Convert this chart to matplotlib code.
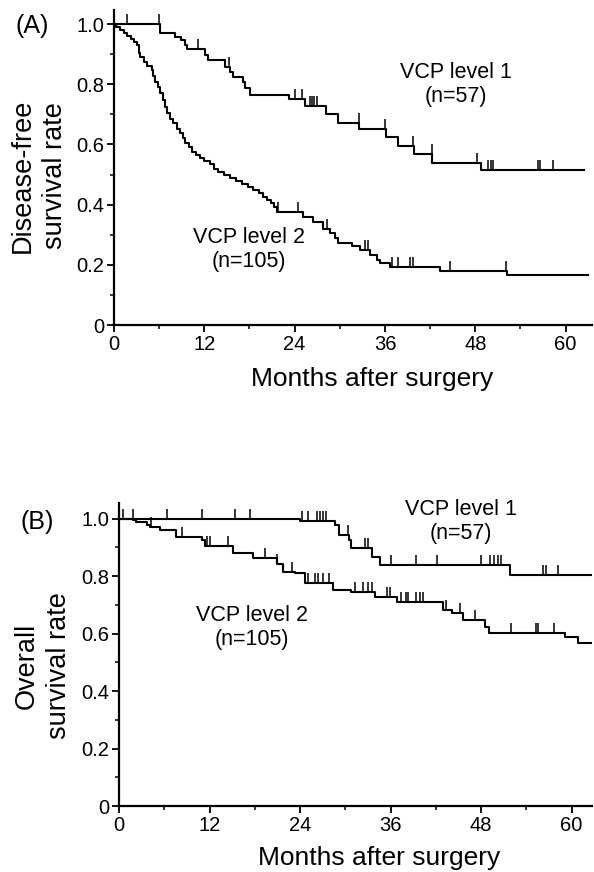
import numpy as np
import matplotlib
matplotlib.use('Agg')
import matplotlib.pyplot as plt
from matplotlib.ticker import MultipleLocator

plt.rcParams['font.family'] = ['Liberation Sans', 'DejaVu Sans']

# (A) disease-free survival, step times (months) and survival after each step
dfs_lvl1_months = [0, 6.1, 8.1, 8.9, 9.4, 9.7, 12.1, 12.5, 14.7, 15.4, 15.8, 17.1, 17.4, 18.1,
                   23.2, 25.4, 28.1, 29.8, 32.6, 36.2, 37.7, 39.8, 42.3, 48.7, 62.5]
dfs_lvl1_surv = [1.0, 0.970, 0.957, 0.947, 0.932, 0.917, 0.897, 0.880, 0.857, 0.840, 0.823, 0.807, 0.787, 0.764,
                 0.752, 0.728, 0.700, 0.673, 0.650, 0.625, 0.595, 0.568, 0.538, 0.515, 0.515]
dfs_lvl1_censored = [1.7, 6.0, 11.2, 15.3, 24.0, 25.0, 26.0, 26.3, 26.6, 27.0, 32.5, 36.0, 39.7,
                     42.2, 48.2, 49.7, 50.1, 50.4, 56.3, 56.6, 58.3]

dfs_lvl2_months = [0, 0.3, 0.8, 1.3, 1.7, 2.2, 2.6, 3.0, 3.3, 3.5, 4.0, 4.4, 5.0, 5.2, 5.4, 5.8, 6.1, 6.5,
                   6.8, 7.0, 7.5, 7.9, 8.4, 8.8, 9.1, 9.4, 9.9, 10.3, 10.9, 11.4, 12.0, 12.7, 13.3, 13.8,
                   14.6, 15.4, 16.2, 17.0, 17.8, 18.5, 19.2, 19.8, 20.3, 20.8, 21.2, 21.6, 25.1, 26.5,
                   27.8, 28.7, 29.3, 29.8, 31.6, 32.7, 34.0, 35.0, 35.4, 36.6, 43.3, 52.2, 63.0]
dfs_lvl2_surv = [1.0, 0.99, 0.98, 0.97, 0.962, 0.952, 0.941, 0.932, 0.905, 0.89, 0.875, 0.862, 0.847, 0.826,
                 0.808, 0.79, 0.77, 0.748, 0.725, 0.703, 0.686, 0.67, 0.653, 0.637, 0.62, 0.604, 0.59, 0.576,
                 0.565, 0.554, 0.544, 0.535, 0.52, 0.508, 0.5, 0.49, 0.478, 0.468, 0.458, 0.449, 0.438, 0.427,
                 0.415, 0.404, 0.393, 0.376, 0.36, 0.343, 0.32, 0.305, 0.29, 0.272, 0.262, 0.25, 0.232, 0.215,
                 0.205, 0.194, 0.18, 0.166, 0.166]
dfs_lvl2_censored = [21.8, 24.5, 28.3, 33.3, 33.8, 36.9, 37.7, 39.3, 39.7, 44.6, 52.1]

# (B) overall survival
os_lvl1_months = [0, 24.0, 28.6, 29.2, 30.5, 30.7, 33.5, 34.6, 51.8, 62.6]
os_lvl1_surv = [1.0, 0.993, 0.978, 0.943, 0.925, 0.896, 0.867, 0.838, 0.803, 0.803]
os_lvl1_censored = [0.5, 1.8, 6.3, 11.0, 15.4, 17.4, 24.2, 25.1, 26.2, 26.6, 27.0, 27.5, 30.4, 32.6,
                    33.0, 36.1, 39.4, 42.1, 48.0, 49.2, 49.7, 50.2, 50.6, 56.2, 56.6, 58.2]

os_lvl2_months = [0, 1.8, 2.3, 3.7, 4.1, 5.5, 7.6, 11.0, 11.4, 15.1, 17.8, 20.9, 21.8, 23.3, 24.6, 28.4,
                  30.8, 33.9, 36.8, 43.0, 44.1, 45.6, 48.5, 49.1, 59.1, 60.8, 62.6]
os_lvl2_surv = [1.0, 0.995, 0.989, 0.977, 0.969, 0.96, 0.937, 0.925, 0.905, 0.88, 0.861, 0.843, 0.815,
                0.809, 0.774, 0.751, 0.745, 0.727, 0.71, 0.682, 0.67, 0.647, 0.624, 0.603, 0.589, 0.568, 0.568]
os_lvl2_censored = [4.3, 8.3, 11.6, 12.1, 14.5, 19.3, 21.0, 22.9, 25.1, 26.0, 26.4, 27.1, 27.9, 31.3,
                    32.4, 33.0, 33.6, 35.5, 35.9, 37.4, 38.1, 38.3, 39.4, 39.9, 40.3, 43.4, 45.2, 47.2,
                    52.0, 55.3, 55.5, 57.7]

x_ticks = [0, 12, 24, 36, 48, 60]
y_ticks = [0, 0.2, 0.4, 0.6, 0.8, 1.0]
y_tick_labels = ['0', '0.2', '0.4', '0.6', '0.8', '1.0']


def draw_km(ax, months, surv, censored):
    t = np.array(months)
    s = np.array(surv)
    ax.step(t, s, where='post', color='black', lw=1.5)
    c = np.array(censored)
    idx = np.searchsorted(t, c, side='right') - 1
    # censoring marks: small ticks pointing up from the curve
    ax.plot(c, s[idx], linestyle='none', marker=2, markersize=7, mew=1.1, color='black')


def style_axes(ax, xmax, ymax):
    ax.set_xlim(0, xmax)
    ax.set_ylim(0, ymax)
    for side in ['top', 'right']:
        ax.spines[side].set_visible(False)
    for side in ['left', 'bottom']:
        ax.spines[side].set_linewidth(1.6)
    ax.set_xticks(x_ticks)
    ax.set_xticklabels([str(v) for v in x_ticks])
    ax.xaxis.set_minor_locator(MultipleLocator(6))
    ax.set_yticks(y_ticks)
    ax.set_yticklabels(y_tick_labels)
    ax.yaxis.set_minor_locator(MultipleLocator(0.1))
    ax.tick_params(which='major', direction='out', length=5, width=1.3, labelsize=14.5, pad=2)
    ax.tick_params(which='minor', direction='out', length=3, width=1.1)


fig = plt.figure(figsize=(5.94, 8.72), dpi=100)
W, H = 594, 872

ax_a = fig.add_axes([114 / W, 1 - 325 / H, 478 / W, 315 / H])
draw_km(ax_a, dfs_lvl1_months, dfs_lvl1_surv, dfs_lvl1_censored)
draw_km(ax_a, dfs_lvl2_months, dfs_lvl2_surv, dfs_lvl2_censored)
style_axes(ax_a, 63.5, 1.047)
ax_a.text(45.4, 0.80, 'VCP level 1\n(n=57)', ha='center', va='center', fontsize=15.5)
ax_a.text(17.9, 0.25, 'VCP level 2\n(n=105)', ha='center', va='center', fontsize=15.5)

ax_b = fig.add_axes([119 / W, 1 - 806 / H, 473 / W, 303 / H])
draw_km(ax_b, os_lvl1_months, os_lvl1_surv, os_lvl1_censored)
draw_km(ax_b, os_lvl2_months, os_lvl2_surv, os_lvl2_censored)
style_axes(ax_b, 62.7, 1.054)
ax_b.text(45.3, 0.99, 'VCP level 1\n(n=57)', ha='center', va='center', fontsize=15.5)
ax_b.text(17.6, 0.62, 'VCP level 2\n(n=105)', ha='center', va='center', fontsize=15.5)

# panel letters and axis titles placed in figure pixels
fig.text(32 / W, 1 - 26 / H, '(A)', ha='center', va='center', fontsize=18)
fig.text(37 / W, 1 - 522 / H, '(B)', ha='center', va='center', fontsize=18)

fig.text(39 / W, 1 - 176 / H, 'Disease-free\nsurvival rate', rotation=90, ha='center', va='center',
         fontsize=19.5, linespacing=1.3, multialignment='center')
fig.text(43 / W, 1 - 666 / H, 'Overall\nsurvival rate', rotation=90, ha='center', va='center',
         fontsize=19.5, linespacing=1.3, multialignment='center')

fig.text(372 / W, 1 - 386 / H, 'Months after surgery', ha='center', va='baseline', fontsize=19)
fig.text(379 / W, 1 - 865 / H, 'Months after surgery', ha='center', va='baseline', fontsize=19)

fig.savefig('out.png', dpi=100, facecolor='white')
